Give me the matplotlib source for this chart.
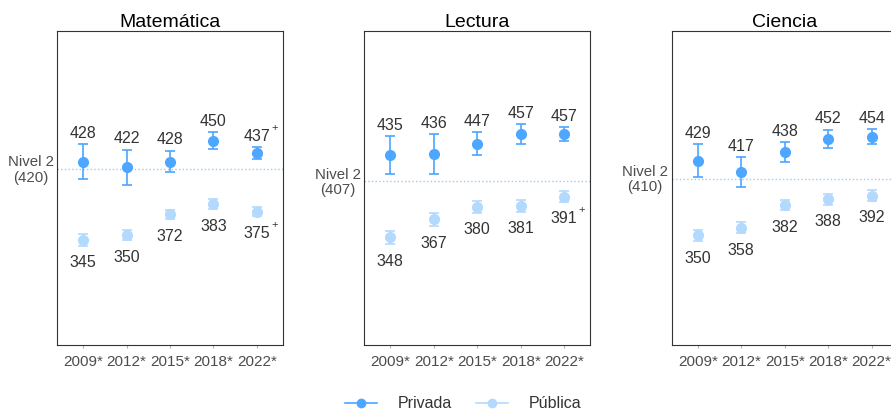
import numpy as np
import matplotlib
matplotlib.use('Agg')
import matplotlib.pyplot as plt
from matplotlib.lines import Line2D

plt.rcParams['font.family'] = ['Liberation Sans', 'DejaVu Sans']

years = ['2009*', '2012*', '2015*', '2018*', '2022*']
subjects = ['Matemática', 'Lectura', 'Ciencia']
levels = [420, 407, 410]

privada = {
    'Matemática': [428, 422, 428, 450, 437],
    'Lectura': [435, 436, 447, 457, 457],
    'Ciencia': [429, 417, 438, 452, 454],
}
privada_err = {
    'Matemática': [18, 18.5, 11.5, 9, 6],
    'Lectura': [20, 21, 12, 10.5, 7.5],
    'Ciencia': [17.5, 15.5, 10.5, 9.5, 8],
}
publica = {
    'Matemática': [345, 350, 372, 383, 375],
    'Lectura': [348, 367, 380, 381, 391],
    'Ciencia': [350, 358, 382, 388, 392],
}
publica_err = {
    'Matemática': [6, 5.5, 5, 5, 5],
    'Lectura': [7, 7, 6, 6, 5.5],
    'Ciencia': [6, 6, 5.5, 5.5, 5.5],
}
# (materia, serie, indice) de los valores marcados con "+"
plus_marks = [('Matemática', 'privada', 4), ('Matemática', 'publica', 4), ('Lectura', 'publica', 4)]

c_priv = '#4da6ff'
c_pub = '#b3d9ff'
txt = '#333333'
gray = '#4d4d4d'

fig = plt.figure(figsize=(8.91, 4.12), dpi=100)
lefts = [57 / 891, 364.3 / 891, 671.7 / 891]
w = 226 / 891
bottom = 1 - 345 / 412
h = 314 / 412

x = np.arange(1, len(years) + 1)
for subj, lvl, left in zip(subjects, levels, lefts):
    ax = fig.add_axes([left, bottom, w, h])
    ax.axhline(lvl, ls=':', color='#9ccbf3', lw=1.0, zorder=1)
    ax.errorbar(x, publica[subj], yerr=publica_err[subj], fmt='o', color=c_pub, ms=7,
                elinewidth=1.2, capsize=3.5, capthick=1.2, zorder=3)
    ax.errorbar(x, privada[subj], yerr=privada_err[subj], fmt='o', color=c_priv, ms=7,
                elinewidth=1.2, capsize=3.5, capthick=1.2, zorder=4)
    for i in range(len(years)):
        vp = privada[subj][i]
        ax.annotate(str(vp), (x[i], vp + privada_err[subj][i]), xytext=(0, 2.5), textcoords='offset points',
                    ha='center', va='bottom', fontsize=11.5, color=txt)
        vq = publica[subj][i]
        ax.annotate(str(vq), (x[i], vq - publica_err[subj][i]), xytext=(0, -7), textcoords='offset points',
                    ha='center', va='top', fontsize=11.5, color=txt)
    for s, serie, i in plus_marks:
        if s != subj:
            continue
        if serie == 'privada':
            y0 = privada[subj][i] + privada_err[subj][i]
            off = (12.5, 14)
        else:
            y0 = publica[subj][i] - publica_err[subj][i]
            off = (12.5, -6)
        ax.annotate('+', (x[i], y0), xytext=off, textcoords='offset points',
                    ha='center', va='center', fontsize=8, color=txt)
    ax.text(-0.015, lvl - 1, f'Nivel 2\n({lvl})', transform=ax.get_yaxis_transform(),
            ha='right', va='center', multialignment='center', fontsize=10.8, color=gray,
            linespacing=1.1)
    ax.set_xlim(0.4, 5.6)
    ax.set_ylim(234, 566)
    ax.set_xticks(x)
    ax.set_xticklabels(years, fontsize=11, color=gray)
    ax.set_yticks([])
    ax.tick_params(axis='x', length=2.5, color='#b0b0b0', pad=5)
    for sp in ax.spines.values():
        sp.set_color('#333333')
        sp.set_linewidth(0.8)
    ax.set_title(subj, fontsize=14, color='black', pad=3)

handles = [
    Line2D([0], [0], color=c_priv, marker='o', ms=6, lw=1.2),
    Line2D([0], [0], color=c_pub, marker='o', ms=6, lw=1.2),
]
fig.legend(handles, ['Privada', 'Pública'], loc='center', bbox_to_anchor=(0.52, 0.02), ncol=2,
           frameon=False, fontsize=11.5, handlelength=2.0, columnspacing=1.5, handletextpad=1.3,
           labelcolor=txt)

fig.savefig('out.png', dpi=100)
